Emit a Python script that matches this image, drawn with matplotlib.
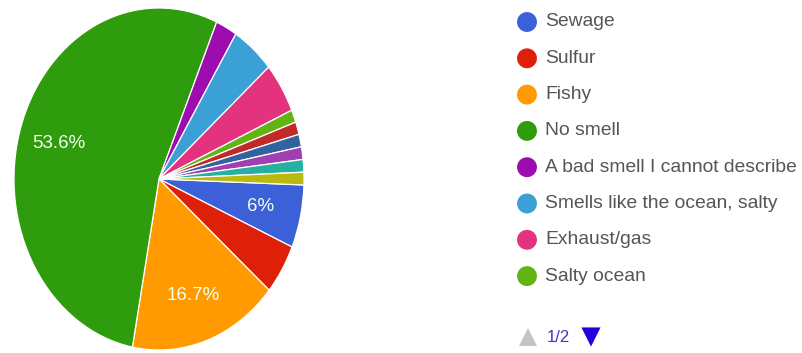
import numpy as np
import matplotlib
matplotlib.use("Agg")
import matplotlib.pyplot as plt

# responses per answer (84 in total), clockwise from about 3 o'clock
answers = ["Sewage", "Sulfur", "Fishy", "No smell",
           "A bad smell I cannot describe", "Smells like the ocean, salty",
           "Exhaust/gas", "Salty ocean",
           "Other 1", "Other 2", "Other 3", "Other 4", "Other 5"]
counts = [5, 4, 14, 45, 2, 4, 4, 1, 1, 1, 1, 1, 1]
colors = ["#3b60d8", "#de2008", "#ff9a00", "#2e9c0c", "#9c0cae", "#3aa0d6",
          "#e3327e", "#62b414", "#c22a2a", "#33639f", "#a040b0", "#26b0a0",
          "#b9b90e"]
legend_shown = 8          # first page of the legend
page_text = "1/2"

W, H = 802, 353
fig = plt.figure(figsize=(W / 100, H / 100), dpi=100)

# pie, slightly stretched vertically like the reference
ax = fig.add_axes([14 / W, 3 / H, 290 / W, 342 / H])


def pct_label(p):
    if p < 5:
        return ""
    s = f"{p:.1f}"
    if s.endswith(".0"):
        s = s[:-2]
    return s + "%"


wedges, _, autotexts = ax.pie(
    counts, colors=colors, startangle=-2, counterclock=False,
    autopct=pct_label, pctdistance=0.72,
    wedgeprops=dict(edgecolor="white", linewidth=0.9),
    textprops=dict(color="#f4fff0", fontsize=13.5, family="Liberation Sans"),
)
ax.set_aspect("auto")
ax.set_xlim(-1.0, 1.0)
ax.set_ylim(-1.0, 1.0)
ax.axis("off")

# legend drawn in a pixel-scaled overlay axes
lg = fig.add_axes([0, 0, 1, 1])
lg.set_xlim(0, W)
lg.set_ylim(H, 0)
lg.axis("off")

y0, pitch = 22, 36.3
for i in range(legend_shown):
    y = y0 + i * pitch
    lg.scatter([527], [y], s=205, color=colors[i], edgecolors="none")
    lg.text(545, y, answers[i], va="center", ha="left", fontsize=13.85,
            color="#555555", family="Liberation Sans")

# page navigation
yp = 337
lg.scatter([528], [yp], marker="^", s=170, color="#c4c4c4", edgecolors="none")
lg.text(547, yp, page_text, va="center", ha="left", fontsize=12,
        color="#3a36d0", family="Liberation Sans")
lg.scatter([591], [yp], marker="v", s=190, color="#2400dc", edgecolors="none")

fig.savefig("out.png", dpi=100)
